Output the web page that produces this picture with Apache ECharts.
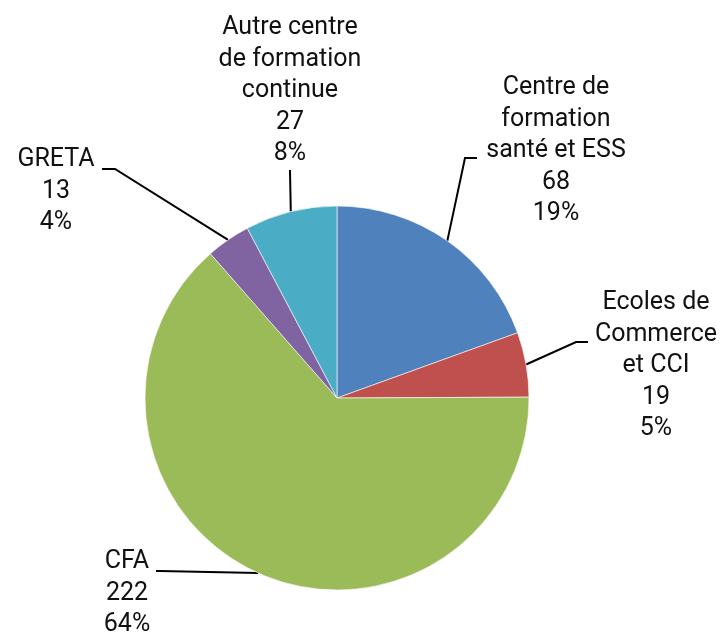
<!DOCTYPE html>
<html>
<head>
<meta charset="utf-8">
<script src="https://cdn.jsdelivr.net/npm/echarts@6/dist/echarts.min.js"></script>
<style>
  html, body { margin: 0; padding: 0; background: #fff; }
  #chart { width: 724px; height: 636px; }
</style>
</head>
<body>
<div id="chart"></div>
<script>
// Établissements par type de centre de formation
const categories = [
  'Centre de\nformation\nsanté et ESS',
  'Ecoles de\nCommerce\net CCI',
  'CFA',
  'GRETA',
  'Autre centre\nde formation\ncontinue'
];
const counts = [68, 19, 222, 13, 27];
const colors = ['#4F81BD', '#C0504D', '#9BBB59', '#8064A2', '#4BACC6'];

// Pie geometry
const CENTER = [337, 398];
const RADIUS = 192;

// Label block placement (centre x, top y) and the elbow of each leader line
const labelSpots = [
  { x: 556, y: 72,  elbow: [[465, 158], [477, 158]] },
  { x: 656, y: 287, elbow: [[576, 342], [588, 342]] },
  { x: 127, y: 546, elbow: [[160, 571], [156, 571]] },
  { x: 56,  y: 144, elbow: [[115, 169], [102, 169]] },
  { x: 290, y: 12,  elbow: [[290, 171], [290, 170]] }
];

const total = counts.reduce((a, b) => a + b, 0);

// Point on the pie rim at the middle angle of slice i (clockwise from 12 o'clock)
function rimPoint(i) {
  let before = 0;
  for (let k = 0; k < i; k++) before += counts[k];
  const frac = (before + counts[i] / 2) / total;
  const ang = frac * Math.PI * 2;
  return [CENTER[0] + RADIUS * Math.sin(ang), CENTER[1] - RADIUS * Math.cos(ang)];
}

const chart = echarts.init(document.getElementById('chart'), null, { renderer: 'canvas' });

chart.setOption({
  animation: false,
  color: colors,
  series: [{
    type: 'pie',
    center: CENTER,
    radius: RADIUS,
    startAngle: 90,
    clockwise: true,
    avoidLabelOverlap: false,
    itemStyle: { borderColor: '#ffffff', borderWidth: 0.6 },
    emphasis: { disabled: true },
    data: categories.map((name, i) => ({ name: name, value: counts[i] })),
    label: {
      show: true,
      position: 'outside',
      fontFamily: 'Roboto',
      fontSize: 25,
      lineHeight: 31.5,
      color: '#111111',
      align: 'center',
      formatter: p => p.name + '\n' + p.value + '\n' + Math.round(p.percent) + '%'
    },
    labelLine: {
      show: true,
      length: 10,
      length2: 10,
      lineStyle: { color: '#000000', width: 2 }
    },
    labelLayout: function (params) {
      const i = params.dataIndex;
      const s = labelSpots[i];
      const start = rimPoint(i);
      return {
        x: s.x,
        y: s.y,
        align: 'center',
        verticalAlign: 'top',
        labelLinePoints: [start, s.elbow[0], s.elbow[1]]
      };
    }
  }]
});
</script>
</body>
</html>
